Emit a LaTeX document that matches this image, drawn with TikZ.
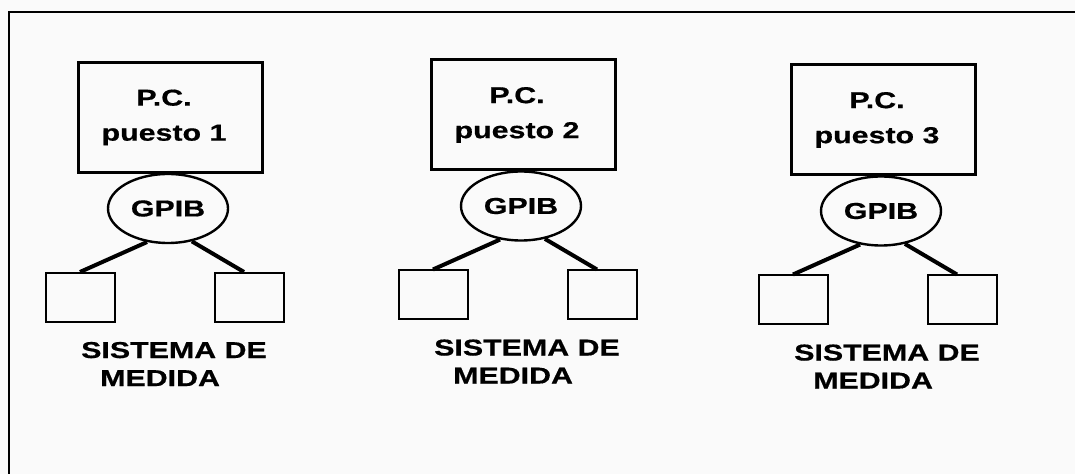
\documentclass[tikz,border=0pt]{standalone}
\usepackage{fontspec}
\newfontfamily\pcfont{Liberation Sans}[FakeStretch=1.32, FakeBold=0.6]
\usetikzlibrary{shapes.geometric}

\begin{document}
\begin{tikzpicture}[
    x=0.5pt,
    y=-0.5pt,
    pcbox/.style={draw, line width=1.5pt, minimum width=92pt, minimum height=55pt,
        inner sep=0pt, align=center, font={\pcfont\bfseries\fontsize{11.5}{17.5}\selectfont}},
    busnode/.style={draw, ellipse, line width=1.2pt, minimum width=60pt, minimum height=34.5pt,
        inner sep=0pt, font={\pcfont\bfseries\fontsize{11.5}{14}\selectfont}},
    instbox/.style={draw, line width=1pt, minimum width=34.5pt, minimum height=24.5pt, inner sep=0pt},
    lbltext/.style={align=left, inner sep=0pt, font={\pcfont\bfseries\fontsize{11.5}{14}\selectfont}},
    link/.style={line width=2pt}
]
    \useasboundingbox (0,0) rectangle (1075,474);
    \fill[black!2] (0,0) rectangle (1075,474);
    \draw[line width=1.3pt] (1075,12) -- (9,12) -- (9,474);
    \foreach \n/\cx/\cy in {1/168/208.5, 2/521/206, 3/881/211} {
        \node[busnode] (bus\n) at (\cx,\cy) {GPIB};
        \node[pcbox] (pc\n) at (\cx+2,\cy-91) {P.C.\hspace*{6pt}\\puesto \n\hspace*{6pt}};
        \node[instbox] (inst\n a) at (\cx-88,\cy+89) {};
        \node[instbox] (inst\n b) at (\cx+81,\cy+89) {};
        \node[lbltext] (lbl\n) at (\cx+6,\cy+155.5) {SISTEMA DE\\\hspace*{9.5pt}MEDIDA};
        \draw[link] (bus\n.238) -- (inst\n a.north);
        \draw[link] (bus\n.306) -- ([xshift=-2.5pt]inst\n b.north);
    }
\end{tikzpicture}
\end{document}
